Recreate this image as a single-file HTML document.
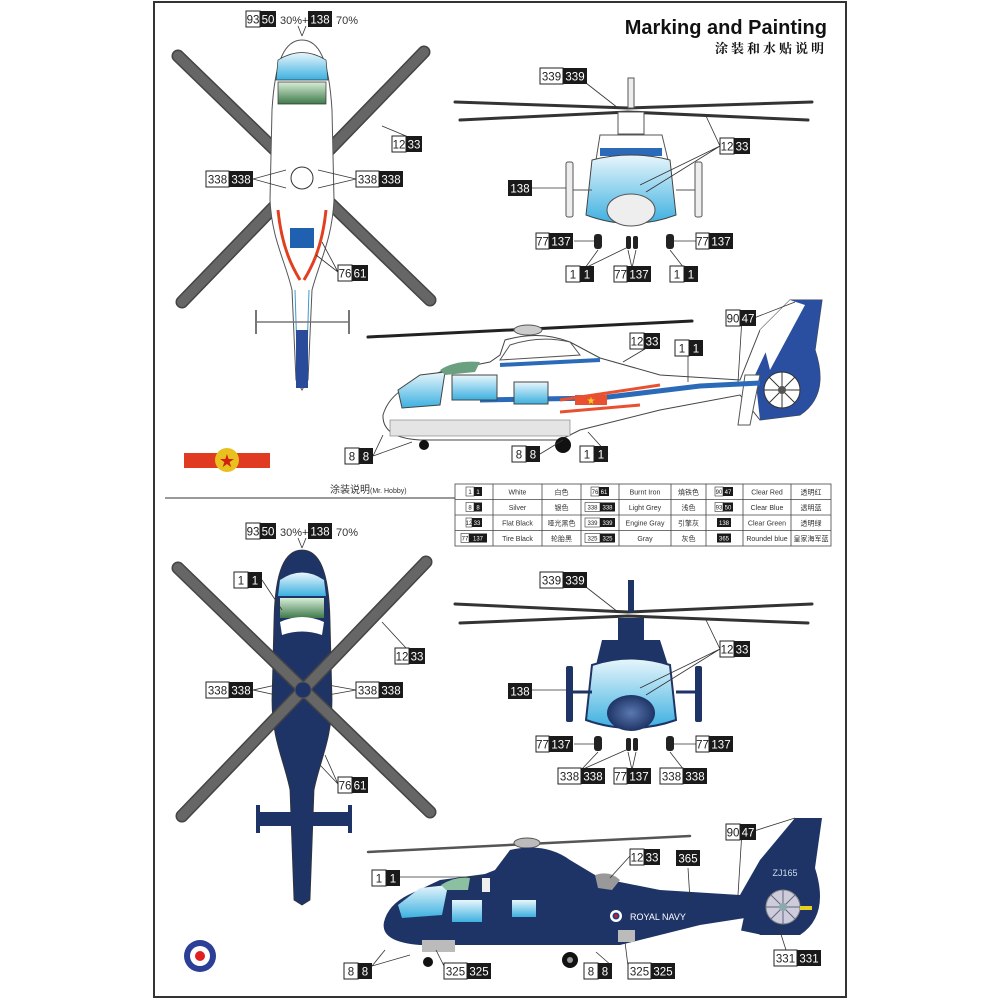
<!DOCTYPE html>
<html><head><meta charset="utf-8"><style>
html,body{margin:0;padding:0;background:#fff}
svg{display:block}
.w{font:11.5px "Liberation Sans",sans-serif;fill:#222;text-anchor:middle}
.b{font:11.5px "Liberation Sans",sans-serif;fill:#fff;text-anchor:middle}
.t{font:7px "Liberation Sans","Noto Sans CJK SC",sans-serif;fill:#333;text-anchor:middle}
.tb{font:6px "Liberation Sans",sans-serif;fill:#fff;text-anchor:middle}
.tw{font:6px "Liberation Sans",sans-serif;fill:#222;text-anchor:middle}
</style></head><body>
<svg width="1000" height="1000" viewBox="0 0 1000 1000" xmlns="http://www.w3.org/2000/svg">
<defs>
<linearGradient id="gl" x1="0" y1="0" x2="0" y2="1"><stop offset="0" stop-color="#e8f6fc"/><stop offset="1" stop-color="#3cb0e0"/></linearGradient>
<linearGradient id="gg" x1="0" y1="0" x2="0" y2="1"><stop offset="0" stop-color="#d8eed8"/><stop offset="1" stop-color="#3f7a4a"/></linearGradient>
<radialGradient id="nv"><stop offset="0" stop-color="#5a78b0"/><stop offset="1" stop-color="#1f3466"/></radialGradient>
</defs>
<rect x="154" y="2" width="692" height="995" fill="#fff" stroke="#333" stroke-width="2"/>

<!-- Title -->
<text x="827" y="34" text-anchor="end" style="font:bold 20px 'Liberation Sans',sans-serif" fill="#111">Marking and Painting</text>
<text x="827" y="53" text-anchor="end" style="font:bold 13px 'Liberation Serif','Noto Serif CJK SC',serif;letter-spacing:3px" fill="#111">涂装和水贴说明</text>

<!-- ===== TOP VIEW 1 ===== -->
<g stroke-linecap="round">
<line x1="178" y1="56" x2="430" y2="300" stroke="#444" stroke-width="13"/>
<line x1="424" y1="52" x2="182" y2="302" stroke="#444" stroke-width="13"/>
<line x1="178" y1="56" x2="430" y2="300" stroke="#666" stroke-width="10"/>
<line x1="424" y1="52" x2="182" y2="302" stroke="#666" stroke-width="10"/>
</g>
<path d="M302 40 C285 40 275 60 272 110 L270 200 C272 240 285 260 292 290 L296 380 L302 390 L308 380 L312 290 C320 260 332 240 334 200 L332 110 C329 60 319 40 302 40Z" fill="#fff" stroke="#555" stroke-width="1"/>
<path d="M278 210 C282 250 294 270 300 280 M326 210 C322 250 310 270 304 280" stroke="#e04020" stroke-width="3" fill="none"/>
<path d="M295 290 L298 385 M309 290 L306 385" stroke="#3a9ad0" stroke-width="1" fill="none"/>
<rect x="296" y="330" width="12" height="58" fill="#2a4a9a"/>
<path d="M278 60 Q302 45 326 60 L328 80 L276 80Z" fill="url(#gl)" stroke="#333" stroke-width=".7"/>
<path d="M278 82 L326 82 L326 104 L278 104Z" fill="url(#gg)" stroke="#333" stroke-width=".7"/>
<rect x="290" y="228" width="24" height="20" fill="#2060b0"/>
<line x1="255" y1="322" x2="350" y2="322" stroke="#777" stroke-width="1.5"/>
<line x1="256" y1="310" x2="256" y2="334" stroke="#777" stroke-width="2"/>
<line x1="349" y1="310" x2="349" y2="334" stroke="#777" stroke-width="2"/>
<circle cx="302" cy="178" r="11" fill="#fff" stroke="#333"/>
<g stroke="#333" stroke-width=".8" fill="none">
<path d="M302 36 L298 26 M302 36 L306 26"/>
<path d="M382 126 L406 136"/>
<path d="M253 179 L286 170 M253 179 L286 188 M356 179 L318 170 M356 179 L318 188"/>
<path d="M338 272 L322 242 M338 272 L316 255"/>
</g>

<g transform="translate(246,11)"><rect width="14" height="16" fill="#fff" stroke="#222"/><rect x="14" width="16" height="16" fill="#1a1a1a"/><text x="7" y="12.5" class="w">93</text><text x="22" y="12.5" class="b">50</text></g>
<text x="280" y="24" style="font:11px 'Liberation Sans',sans-serif" fill="#333">30%+</text>
<g transform="translate(308,11)"><rect width="24" height="16" fill="#1a1a1a"/><text x="12" y="12.5" class="b">138</text></g>
<text x="336" y="24" style="font:11px 'Liberation Sans',sans-serif" fill="#333">70%</text>
<g transform="translate(392,136)"><rect width="14" height="16" fill="#fff" stroke="#222"/><rect x="14" width="16" height="16" fill="#1a1a1a"/><text x="7" y="12.5" class="w">12</text><text x="22" y="12.5" class="b">33</text></g>
<g transform="translate(206,171)"><rect width="23" height="16" fill="#fff" stroke="#222"/><rect x="23" width="24" height="16" fill="#1a1a1a"/><text x="11.5" y="12.5" class="w">338</text><text x="35" y="12.5" class="b">338</text></g>
<g transform="translate(356,171)"><rect width="23" height="16" fill="#fff" stroke="#222"/><rect x="23" width="24" height="16" fill="#1a1a1a"/><text x="11.5" y="12.5" class="w">338</text><text x="35" y="12.5" class="b">338</text></g>
<g transform="translate(338,265)"><rect width="14" height="16" fill="#fff" stroke="#222"/><rect x="14" width="16" height="16" fill="#1a1a1a"/><text x="7" y="12.5" class="w">76</text><text x="22" y="12.5" class="b">61</text></g>

<!-- ===== FRONT VIEW 1 ===== -->
<path d="M455 102 L628 108 L812 102 M460 120 L628 112 L808 120" stroke="#333" stroke-width="3" fill="none" stroke-linecap="round"/>
<rect x="628" y="78" width="6" height="30" fill="#eee" stroke="#555"/>
<rect x="618" y="112" width="26" height="22" fill="#fff" stroke="#555"/>
<path d="M600 135 L662 135 L668 160 L596 160Z" fill="#fff" stroke="#555"/>
<rect x="600" y="148" width="62" height="8" fill="#2a6ab8"/>
<path d="M592 160 Q631 150 670 160 L676 215 Q631 232 586 215Z" fill="url(#gl)" stroke="#444"/>
<ellipse cx="631" cy="210" rx="24" ry="16" fill="#eee" stroke="#555"/>
<rect x="566" y="162" width="7" height="55" rx="2" fill="#eee" stroke="#555"/>
<rect x="695" y="162" width="7" height="55" rx="2" fill="#eee" stroke="#555"/>
<line x1="573" y1="190" x2="592" y2="190" stroke="#555"/><line x1="676" y1="190" x2="695" y2="190" stroke="#555"/>
<rect x="594" y="234" width="8" height="15" rx="3" fill="#222"/><rect x="666" y="234" width="8" height="15" rx="3" fill="#222"/>
<rect x="626" y="236" width="5" height="13" rx="2" fill="#222"/><rect x="633" y="236" width="5" height="13" rx="2" fill="#222"/>
<g stroke="#333" stroke-width=".8" fill="none">
<path d="M586 83 L618 108 M720 146 L706 116 M720 146 L640 185 M720 146 L646 192 M532 188 L566 188 M574 241 L594 241 M696 241 L674 241 M585 268 L598 250 M585 268 L626 248 M632 268 L628 250 M632 268 L636 250 M684 268 L670 250"/>
</g>
<g transform="translate(540,68)"><rect width="23" height="16" fill="#fff" stroke="#222"/><rect x="23" width="24" height="16" fill="#1a1a1a"/><text x="11.5" y="12.5" class="w">339</text><text x="35" y="12.5" class="b">339</text></g>
<g transform="translate(720,138)"><rect width="14" height="16" fill="#fff" stroke="#222"/><rect x="14" width="16" height="16" fill="#1a1a1a"/><text x="7" y="12.5" class="w">12</text><text x="22" y="12.5" class="b">33</text></g>
<g transform="translate(508,180)"><rect width="24" height="16" fill="#1a1a1a"/><text x="12" y="12.5" class="b">138</text></g>
<g transform="translate(536,233)"><rect width="13" height="16" fill="#fff" stroke="#222"/><rect x="13" width="24" height="16" fill="#1a1a1a"/><text x="6.5" y="12.5" class="w">77</text><text x="25" y="12.5" class="b">137</text></g>
<g transform="translate(696,233)"><rect width="13" height="16" fill="#fff" stroke="#222"/><rect x="13" width="24" height="16" fill="#1a1a1a"/><text x="6.5" y="12.5" class="w">77</text><text x="25" y="12.5" class="b">137</text></g>
<g transform="translate(566,266)"><rect width="14" height="16" fill="#fff" stroke="#222"/><rect x="14" width="14" height="16" fill="#1a1a1a"/><text x="7" y="12.5" class="w">1</text><text x="21" y="12.5" class="b">1</text></g>
<g transform="translate(614,266)"><rect width="13" height="16" fill="#fff" stroke="#222"/><rect x="13" width="24" height="16" fill="#1a1a1a"/><text x="6.5" y="12.5" class="w">77</text><text x="25" y="12.5" class="b">137</text></g>
<g transform="translate(670,266)"><rect width="14" height="16" fill="#fff" stroke="#222"/><rect x="14" width="14" height="16" fill="#1a1a1a"/><text x="7" y="12.5" class="w">1</text><text x="21" y="12.5" class="b">1</text></g>

<!-- ===== SIDE VIEW 1 ===== -->
<line x1="368" y1="337" x2="692" y2="321" stroke="#222" stroke-width="3" stroke-linecap="round"/>
<ellipse cx="528" cy="330" rx="14" ry="5" fill="#ccc" stroke="#555"/>
<path d="M505 340 Q540 330 570 342 L600 358 L660 375 L740 380 L760 330 L790 300 L822 300 L815 350 Q830 395 800 415 L760 420 L740 395 L660 410 L580 430 L560 440 L420 440 Q382 438 383 415 Q388 398 405 388 L440 372 L490 362 L500 355Z" fill="#fff" stroke="#444"/>
<path d="M790 300 L822 300 L815 350 Q830 395 800 415 L760 420 L755 375 Z" fill="#2a4fa0"/>
<path d="M760 330 L790 300 L805 305 L770 370Z" fill="#fff"/>
<circle cx="782" cy="390" r="18" fill="#fff" stroke="#333"/>
<g stroke="#333" stroke-width="1"><line x1="764" y1="390" x2="800" y2="390"/><line x1="782" y1="372" x2="782" y2="408"/><line x1="769" y1="377" x2="795" y2="403"/><line x1="795" y1="377" x2="769" y2="403"/></g>
<circle cx="782" cy="390" r="4" fill="#555"/>
<path d="M745 375 L760 375 L750 425 L738 425Z" fill="#fff" stroke="#555"/>
<path d="M480 400 L600 398 L700 386 L760 383" stroke="#2a6ab8" stroke-width="5" fill="none"/>
<path d="M560 400 L660 385 M560 412 L640 405" stroke="#e85030" stroke-width="3" fill="none"/>
<rect x="575" y="395" width="32" height="10" fill="#e85030"/>
<text x="591" y="404" text-anchor="middle" style="font:10px 'DejaVu Sans',sans-serif" fill="#f0d020">★</text>
<path d="M398 390 L420 375 L445 372 L440 405 L402 408Z" fill="url(#gl)" stroke="#444"/>
<rect x="452" y="375" width="45" height="25" fill="url(#gl)" stroke="#444"/>
<rect x="514" y="382" width="34" height="22" fill="url(#gl)" stroke="#444"/>
<path d="M440 370 Q455 360 480 362 L475 372 L445 375Z" fill="#6aa080"/>
<path d="M510 345 Q540 335 570 342 L580 355 L500 360Z" fill="#fff" stroke="#555"/>
<path d="M500 365 L600 360" stroke="#2a6ab8" stroke-width="4"/>
<rect x="390" y="420" width="180" height="16" fill="#e4e4e4" stroke="#777" stroke-width=".6"/>
<circle cx="424" cy="445" r="5" fill="#111"/><circle cx="563" cy="445" r="8" fill="#111"/>
<g stroke="#333" stroke-width=".8" fill="none">
<path d="M373 456 L383 435 M373 456 L412 442 M540 454 L563 440 M608 454 L588 432 M754 318 L795 302 M742 318 L738 382 M660 340 L623 362 M688 356 L688 382"/>
</g>
<g transform="translate(726,310)"><rect width="14" height="16" fill="#fff" stroke="#222"/><rect x="14" width="16" height="16" fill="#1a1a1a"/><text x="7" y="12.5" class="w">90</text><text x="22" y="12.5" class="b">47</text></g>
<g transform="translate(630,333)"><rect width="14" height="16" fill="#fff" stroke="#222"/><rect x="14" width="16" height="16" fill="#1a1a1a"/><text x="7" y="12.5" class="w">12</text><text x="22" y="12.5" class="b">33</text></g>
<g transform="translate(675,340)"><rect width="14" height="16" fill="#fff" stroke="#222"/><rect x="14" width="14" height="16" fill="#1a1a1a"/><text x="7" y="12.5" class="w">1</text><text x="21" y="12.5" class="b">1</text></g>
<g transform="translate(345,448)"><rect width="14" height="16" fill="#fff" stroke="#222"/><rect x="14" width="14" height="16" fill="#1a1a1a"/><text x="7" y="12.5" class="w">8</text><text x="21" y="12.5" class="b">8</text></g>
<g transform="translate(512,446)"><rect width="14" height="16" fill="#fff" stroke="#222"/><rect x="14" width="14" height="16" fill="#1a1a1a"/><text x="7" y="12.5" class="w">8</text><text x="21" y="12.5" class="b">8</text></g>
<g transform="translate(580,446)"><rect width="14" height="16" fill="#fff" stroke="#222"/><rect x="14" width="14" height="16" fill="#1a1a1a"/><text x="7" y="12.5" class="w">1</text><text x="21" y="12.5" class="b">1</text></g>

<!-- flag -->
<rect x="184" y="453" width="86" height="15" fill="#e03a20"/>
<circle cx="227" cy="460" r="12" fill="#e8c020"/>
<text x="227" y="467" text-anchor="middle" style="font:18px 'DejaVu Sans',sans-serif" fill="#d02010">★</text>

<!-- divider + table -->
<line x1="165" y1="498" x2="455" y2="498" stroke="#333" stroke-width="1"/>
<text x="330" y="493" style="font:10px 'Liberation Sans','Noto Sans CJK SC',sans-serif" fill="#333">涂装说明<tspan style="font-size:7px">(Mr. Hobby)</tspan></text>
<g stroke="#444" stroke-width=".8" fill="none">
<rect x="455" y="484" width="376" height="62"/>
<line x1="455" y1="499.5" x2="831" y2="499.5"/><line x1="455" y1="515" x2="831" y2="515"/><line x1="455" y1="530.5" x2="831" y2="530.5"/>
<line x1="493" y1="484" x2="493" y2="546"/><line x1="542" y1="484" x2="542" y2="546"/><line x1="581" y1="484" x2="581" y2="546"/><line x1="619" y1="484" x2="619" y2="546"/><line x1="671" y1="484" x2="671" y2="546"/><line x1="706" y1="484" x2="706" y2="546"/><line x1="743" y1="484" x2="743" y2="546"/><line x1="791" y1="484" x2="791" y2="546"/>
</g>
<g>
<rect x="466" y="487" width="8" height="9" fill="#fff" stroke="#333" stroke-width=".6"/><rect x="474" y="487" width="8" height="9" fill="#1a1a1a"/><text x="470" y="494" class="tw">1</text><text x="478" y="494" class="tb">1</text>
<rect x="466" y="502.5" width="8" height="9" fill="#fff" stroke="#333" stroke-width=".6"/><rect x="474" y="502.5" width="8" height="9" fill="#1a1a1a"/><text x="470" y="509.5" class="tw">8</text><text x="478" y="509.5" class="tb">8</text>
<rect x="466" y="518" width="6" height="9" fill="#fff" stroke="#333" stroke-width=".6"/><rect x="472" y="518" width="10" height="9" fill="#1a1a1a"/><text x="469" y="525" class="tw">12</text><text x="477" y="525" class="tb">33</text>
<rect x="461" y="533.5" width="8" height="9" fill="#fff" stroke="#333" stroke-width=".6"/><rect x="469" y="533.5" width="18" height="9" fill="#1a1a1a"/><text x="465" y="540.5" class="tw">77</text><text x="478" y="540.5" class="tb">137</text>
<rect x="591" y="487" width="8" height="9" fill="#fff" stroke="#333" stroke-width=".6"/><rect x="599" y="487" width="10" height="9" fill="#1a1a1a"/><text x="595" y="494" class="tw">76</text><text x="604" y="494" class="tb">61</text>
<rect x="585" y="502.5" width="15" height="9" fill="#fff" stroke="#333" stroke-width=".6"/><rect x="600" y="502.5" width="15" height="9" fill="#1a1a1a"/><text x="592.5" y="509.5" class="tw">338</text><text x="607.5" y="509.5" class="tb">338</text>
<rect x="585" y="518" width="15" height="9" fill="#fff" stroke="#333" stroke-width=".6"/><rect x="600" y="518" width="15" height="9" fill="#1a1a1a"/><text x="592.5" y="525" class="tw">339</text><text x="607.5" y="525" class="tb">339</text>
<rect x="585" y="533.5" width="15" height="9" fill="#fff" stroke="#333" stroke-width=".6"/><rect x="600" y="533.5" width="15" height="9" fill="#1a1a1a"/><text x="592.5" y="540.5" class="tw">325</text><text x="607.5" y="540.5" class="tb">325</text>
<rect x="715" y="487" width="8" height="9" fill="#fff" stroke="#333" stroke-width=".6"/><rect x="723" y="487" width="10" height="9" fill="#1a1a1a"/><text x="719" y="494" class="tw">90</text><text x="728" y="494" class="tb">47</text>
<rect x="715" y="502.5" width="8" height="9" fill="#fff" stroke="#333" stroke-width=".6"/><rect x="723" y="502.5" width="10" height="9" fill="#1a1a1a"/><text x="719" y="509.5" class="tw">93</text><text x="728" y="509.5" class="tb">50</text>
<rect x="717" y="518" width="14" height="9" fill="#1a1a1a"/><text x="724" y="525" class="tb">138</text>
<rect x="717" y="533.5" width="14" height="9" fill="#1a1a1a"/><text x="724" y="540.5" class="tb">365</text>
</g>
<g class="t">
<text x="517.5" y="494.5">White</text><text x="561.5" y="494.5">白色</text><text x="645" y="494.5">Burnt Iron</text><text x="688.5" y="494.5">燒铁色</text><text x="767" y="494.5">Clear Red</text><text x="811" y="494.5">透明红</text>
<text x="517.5" y="510">Silver</text><text x="561.5" y="510">银色</text><text x="645" y="510">Light Grey</text><text x="688.5" y="510">浅色</text><text x="767" y="510">Clear Blue</text><text x="811" y="510">透明蓝</text>
<text x="517.5" y="525.5">Flat Black</text><text x="561.5" y="525.5">哑光黑色</text><text x="645" y="525.5">Engine Gray</text><text x="688.5" y="525.5">引擎灰</text><text x="767" y="525.5">Clear Green</text><text x="811" y="525.5">透明绿</text>
<text x="517.5" y="541">Tire Black</text><text x="561.5" y="541">轮胎黑</text><text x="645" y="541">Gray</text><text x="688.5" y="541">灰色</text><text x="767" y="541">Roundel blue</text><text x="811" y="541">皇家海军蓝</text>
</g>

<!-- ===== TOP VIEW 2 ===== -->
<path d="M302 550 C285 550 275 570 274 620 L272 700 C272 740 284 760 290 790 L294 900 L302 905 L310 900 L314 790 C320 760 332 740 332 700 L330 620 C329 570 319 550 302 550Z" fill="#1f3466" stroke="#333" stroke-width=".8"/>
<rect x="256" y="812" width="96" height="14" fill="#1f3466"/>
<rect x="256" y="805" width="4" height="28" fill="#1f3466"/><rect x="348" y="805" width="4" height="28" fill="#1f3466"/>
<path d="M280 580 Q302 565 324 580 L326 596 L278 596Z" fill="url(#gl)"/>
<path d="M280 598 L324 598 L324 618 L280 618Z" fill="url(#gg)"/>
<path d="M280 622 Q302 612 324 622 L322 635 Q302 628 282 635Z" fill="#fff"/>
<g stroke-linecap="round">
<line x1="178" y1="568" x2="430" y2="812" stroke="#444" stroke-width="13"/>
<line x1="426" y1="562" x2="182" y2="816" stroke="#444" stroke-width="13"/>
<line x1="178" y1="568" x2="430" y2="812" stroke="#666" stroke-width="10"/>
<line x1="426" y1="562" x2="182" y2="816" stroke="#666" stroke-width="10"/>
</g>
<circle cx="303" cy="690" r="8" fill="#1f3466" stroke="#555"/>
<g stroke="#333" stroke-width=".8" fill="none">
<path d="M302 548 L298 538 M302 548 L306 538 M262 580 L282 610 M382 622 L406 648 M253 690 L276 685 M253 690 L276 695 M356 690 L328 685 M356 690 L328 695 M338 784 L325 755 M338 784 L320 765"/>
</g>
<g transform="translate(246,523)"><rect width="14" height="16" fill="#fff" stroke="#222"/><rect x="14" width="16" height="16" fill="#1a1a1a"/><text x="7" y="12.5" class="w">93</text><text x="22" y="12.5" class="b">50</text></g>
<text x="280" y="536" style="font:11px 'Liberation Sans',sans-serif" fill="#333">30%+</text>
<g transform="translate(308,523)"><rect width="24" height="16" fill="#1a1a1a"/><text x="12" y="12.5" class="b">138</text></g>
<text x="336" y="536" style="font:11px 'Liberation Sans',sans-serif" fill="#333">70%</text>
<g transform="translate(234,572)"><rect width="14" height="16" fill="#fff" stroke="#222"/><rect x="14" width="14" height="16" fill="#1a1a1a"/><text x="7" y="12.5" class="w">1</text><text x="21" y="12.5" class="b">1</text></g>
<g transform="translate(395,648)"><rect width="14" height="16" fill="#fff" stroke="#222"/><rect x="14" width="16" height="16" fill="#1a1a1a"/><text x="7" y="12.5" class="w">12</text><text x="22" y="12.5" class="b">33</text></g>
<g transform="translate(206,682)"><rect width="23" height="16" fill="#fff" stroke="#222"/><rect x="23" width="24" height="16" fill="#1a1a1a"/><text x="11.5" y="12.5" class="w">338</text><text x="35" y="12.5" class="b">338</text></g>
<g transform="translate(356,682)"><rect width="23" height="16" fill="#fff" stroke="#222"/><rect x="23" width="24" height="16" fill="#1a1a1a"/><text x="11.5" y="12.5" class="w">338</text><text x="35" y="12.5" class="b">338</text></g>
<g transform="translate(338,777)"><rect width="14" height="16" fill="#fff" stroke="#222"/><rect x="14" width="16" height="16" fill="#1a1a1a"/><text x="7" y="12.5" class="w">76</text><text x="22" y="12.5" class="b">61</text></g>

<!-- ===== FRONT VIEW 2 ===== -->
<path d="M455 604 L628 612 L812 604 M460 623 L628 616 L808 623" stroke="#333" stroke-width="3" fill="none" stroke-linecap="round"/>
<rect x="628" y="580" width="6" height="32" fill="#1f3466"/>
<rect x="618" y="618" width="26" height="22" fill="#1f3466"/>
<path d="M602 640 L660 640 L668 665 L596 665Z" fill="#1f3466"/>
<path d="M592 665 Q631 652 670 665 L676 720 Q631 736 586 720Z" fill="url(#gl)" stroke="#1f3466" stroke-width="2"/>
<ellipse cx="631" cy="713" rx="24" ry="18" fill="url(#nv)"/>
<rect x="566" y="666" width="7" height="56" rx="2" fill="#1f3466"/>
<rect x="695" y="666" width="7" height="56" rx="2" fill="#1f3466"/>
<line x1="573" y1="692" x2="592" y2="692" stroke="#1f3466" stroke-width="3"/><line x1="676" y1="692" x2="695" y2="692" stroke="#1f3466" stroke-width="3"/>
<rect x="594" y="736" width="8" height="15" rx="3" fill="#222"/><rect x="666" y="736" width="8" height="15" rx="3" fill="#222"/>
<rect x="626" y="738" width="5" height="13" rx="2" fill="#222"/><rect x="633" y="738" width="5" height="13" rx="2" fill="#222"/>
<g stroke="#333" stroke-width=".8" fill="none">
<path d="M586 587 L618 612 M720 649 L706 620 M720 649 L640 688 M720 649 L646 695 M532 690 L566 690 M574 744 L594 744 M696 744 L674 744 M581 770 L598 752 M581 770 L626 750 M632 770 L628 752 M632 770 L636 752 M684 770 L670 752"/>
</g>
<g transform="translate(540,572)"><rect width="23" height="16" fill="#fff" stroke="#222"/><rect x="23" width="24" height="16" fill="#1a1a1a"/><text x="11.5" y="12.5" class="w">339</text><text x="35" y="12.5" class="b">339</text></g>
<g transform="translate(720,641)"><rect width="14" height="16" fill="#fff" stroke="#222"/><rect x="14" width="16" height="16" fill="#1a1a1a"/><text x="7" y="12.5" class="w">12</text><text x="22" y="12.5" class="b">33</text></g>
<g transform="translate(508,683)"><rect width="24" height="16" fill="#1a1a1a"/><text x="12" y="12.5" class="b">138</text></g>
<g transform="translate(536,736)"><rect width="13" height="16" fill="#fff" stroke="#222"/><rect x="13" width="24" height="16" fill="#1a1a1a"/><text x="6.5" y="12.5" class="w">77</text><text x="25" y="12.5" class="b">137</text></g>
<g transform="translate(696,736)"><rect width="13" height="16" fill="#fff" stroke="#222"/><rect x="13" width="24" height="16" fill="#1a1a1a"/><text x="6.5" y="12.5" class="w">77</text><text x="25" y="12.5" class="b">137</text></g>
<g transform="translate(558,768)"><rect width="23" height="16" fill="#fff" stroke="#222"/><rect x="23" width="24" height="16" fill="#1a1a1a"/><text x="11.5" y="12.5" class="w">338</text><text x="35" y="12.5" class="b">338</text></g>
<g transform="translate(614,768)"><rect width="13" height="16" fill="#fff" stroke="#222"/><rect x="13" width="24" height="16" fill="#1a1a1a"/><text x="6.5" y="12.5" class="w">77</text><text x="25" y="12.5" class="b">137</text></g>
<g transform="translate(660,768)"><rect width="23" height="16" fill="#fff" stroke="#222"/><rect x="23" width="24" height="16" fill="#1a1a1a"/><text x="11.5" y="12.5" class="w">338</text><text x="35" y="12.5" class="b">338</text></g>

<!-- ===== SIDE VIEW 2 ===== -->
<line x1="368" y1="852" x2="690" y2="836" stroke="#555" stroke-width="2.5" stroke-linecap="round"/>
<ellipse cx="527" cy="843" rx="13" ry="5" fill="#bbb" stroke="#555"/>
<path d="M510 850 Q545 842 570 860 L600 878 L660 890 L740 895 L760 860 L795 818 L822 818 L815 868 Q830 915 800 935 L760 935 L745 918 L700 925 L620 945 L420 945 Q380 942 384 922 Q388 905 408 895 L440 880 L485 874 L495 870Z" fill="#1f3466"/>
<rect x="745" y="893" width="20" height="40" fill="#1f3466" transform="rotate(12 755 913)"/>
<circle cx="783" cy="907" r="17" fill="#ccd" stroke="#888"/>
<g stroke="#667" stroke-width="1"><line x1="766" y1="907" x2="800" y2="907"/><line x1="783" y1="890" x2="783" y2="924"/><line x1="771" y1="895" x2="795" y2="919"/><line x1="795" y1="895" x2="771" y2="919"/></g>
<circle cx="783" cy="907" r="4" fill="#8aa"/>
<rect x="800" y="906" width="12" height="4" fill="#e8d020"/>
<text x="785" y="876" text-anchor="middle" style="font:9px 'Liberation Sans',sans-serif" fill="#cde">ZJ165</text>
<path d="M398 905 L420 888 L448 885 L442 915 L402 918Z" fill="url(#gl)"/>
<rect x="452" y="900" width="30" height="22" fill="url(#gl)"/>
<rect x="512" y="900" width="24" height="17" fill="url(#gl)"/>
<path d="M441 885 Q455 876 470 878 L468 890 L446 890Z" fill="#8bc0a0"/>
<rect x="482" y="878" width="8" height="14" fill="#eee"/>
<path d="M595 875 Q610 870 620 880 L612 890 L598 888Z" fill="#999"/>
<circle cx="616" cy="916" r="6" fill="#fff"/><circle cx="616" cy="916" r="3.5" fill="#2a3a80"/><circle cx="616" cy="916" r="1.7" fill="#d02020"/>
<text x="630" y="920" style="font:9px 'Liberation Sans',sans-serif" fill="#fff">ROYAL NAVY</text>
<rect x="422" y="940" width="33" height="12" fill="#bbb"/>
<rect x="618" y="930" width="17" height="12" fill="#bbb"/>
<circle cx="428" cy="962" r="5" fill="#111"/><circle cx="570" cy="960" r="8" fill="#111"/><circle cx="570" cy="960" r="3" fill="#999"/>
<g stroke="#333" stroke-width=".8" fill="none">
<path d="M400 877 L482 877 M630 856 L610 878 M688 868 L690 900 M754 831 L795 818 M742 831 L738 895 M372 966 L385 950 M372 966 L410 955 M444 966 L436 950 M612 966 L596 952 M628 966 L625 942 M786 950 L778 925"/>
</g>
<g transform="translate(726,824)"><rect width="14" height="16" fill="#fff" stroke="#222"/><rect x="14" width="16" height="16" fill="#1a1a1a"/><text x="7" y="12.5" class="w">90</text><text x="22" y="12.5" class="b">47</text></g>
<g transform="translate(630,849)"><rect width="14" height="16" fill="#fff" stroke="#222"/><rect x="14" width="16" height="16" fill="#1a1a1a"/><text x="7" y="12.5" class="w">12</text><text x="22" y="12.5" class="b">33</text></g>
<g transform="translate(676,850)"><rect width="24" height="16" fill="#1a1a1a"/><text x="12" y="12.5" class="b">365</text></g>
<g transform="translate(372,870)"><rect width="14" height="16" fill="#fff" stroke="#222"/><rect x="14" width="14" height="16" fill="#1a1a1a"/><text x="7" y="12.5" class="w">1</text><text x="21" y="12.5" class="b">1</text></g>
<g transform="translate(344,963)"><rect width="14" height="16" fill="#fff" stroke="#222"/><rect x="14" width="14" height="16" fill="#1a1a1a"/><text x="7" y="12.5" class="w">8</text><text x="21" y="12.5" class="b">8</text></g>
<g transform="translate(444,963)"><rect width="23" height="16" fill="#fff" stroke="#222"/><rect x="23" width="24" height="16" fill="#1a1a1a"/><text x="11.5" y="12.5" class="w">325</text><text x="35" y="12.5" class="b">325</text></g>
<g transform="translate(584,963)"><rect width="14" height="16" fill="#fff" stroke="#222"/><rect x="14" width="14" height="16" fill="#1a1a1a"/><text x="7" y="12.5" class="w">8</text><text x="21" y="12.5" class="b">8</text></g>
<g transform="translate(628,963)"><rect width="23" height="16" fill="#fff" stroke="#222"/><rect x="23" width="24" height="16" fill="#1a1a1a"/><text x="11.5" y="12.5" class="w">325</text><text x="35" y="12.5" class="b">325</text></g>
<g transform="translate(774,950)"><rect width="23" height="16" fill="#fff" stroke="#222"/><rect x="23" width="24" height="16" fill="#1a1a1a"/><text x="11.5" y="12.5" class="w">331</text><text x="35" y="12.5" class="b">331</text></g>

<circle cx="200" cy="956" r="16" fill="#2a3f95"/><circle cx="200" cy="956" r="10" fill="#fff"/><circle cx="200" cy="956" r="5" fill="#e02020"/>
</svg>
</body></html>
